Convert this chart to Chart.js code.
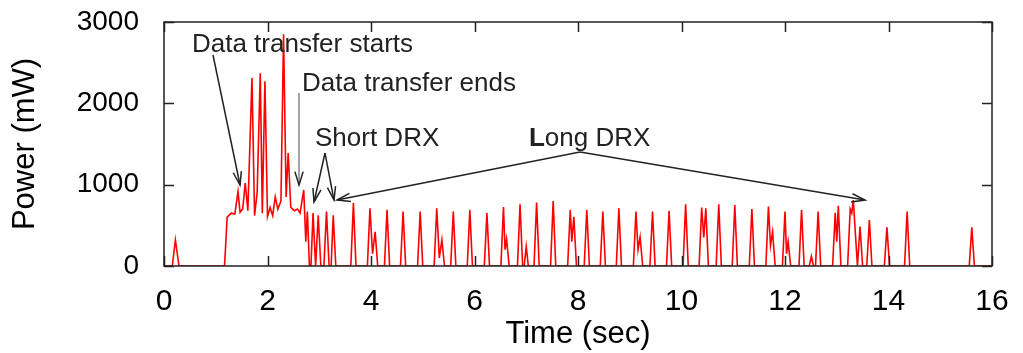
<!DOCTYPE html>
<html><head><meta charset="utf-8">
<script src="https://cdn.jsdelivr.net/npm/chart.js@4.4.1/dist/chart.umd.min.js"></script>
<style>html,body{margin:0;padding:0;background:#fff;} #c{display:block;}</style>
</head><body>
<canvas id="c" width="1023" height="353"></canvas>
<script>
// ---- data ----
const timeSec = [
  0, 0.16, 0.22, 0.29, 1.17, 1.22, 1.30, 1.37, 1.43, 1.47, 1.52, 1.57, 1.62, 1.70, 1.75, 1.80, 1.86, 1.90, 1.95, 2.00,
  2.05, 2.10, 2.15, 2.20, 2.26, 2.31, 2.36, 2.40, 2.45, 2.52, 2.58, 2.63, 2.70, 2.74, 2.77, 2.81, 2.84, 2.88, 2.93, 2.98,
  3.03, 3.09, 3.14, 3.19, 3.23, 3.27, 3.32, 3.61, 3.66, 3.71, 3.93, 3.98, 4.03, 4.08, 4.13, 4.26, 4.31, 4.36, 4.57, 4.62,
  4.67, 4.90, 4.95, 5.00, 5.22, 5.27, 5.32, 5.37, 5.42, 5.54, 5.59, 5.64, 5.86, 5.91, 5.96, 6.19, 6.24, 6.29, 6.51, 6.56,
  6.59, 6.62, 6.67, 6.83, 6.88, 6.93, 6.96, 7.00, 7.04, 7.15, 7.20, 7.25, 7.47, 7.52, 7.57, 7.80, 7.85, 7.88, 7.92, 7.97,
  8.12, 8.17, 8.22, 8.43, 8.48, 8.53, 8.74, 8.79, 8.84, 9.07, 9.12, 9.16, 9.20, 9.25, 9.39, 9.44, 9.49, 9.71, 9.76, 9.81,
  10.03, 10.08, 10.13, 10.34, 10.39, 10.43, 10.47, 10.52, 10.67, 10.72, 10.77, 10.98, 11.03, 11.08, 11.31, 11.36, 11.41, 11.63, 11.68, 11.72,
  11.76, 11.81, 11.95, 12.00, 12.03, 12.06, 12.11, 12.27, 12.32, 12.37, 12.47, 12.51, 12.55, 12.59, 12.64, 12.69, 12.92, 12.97, 13.00, 13.03,
  13.08, 13.21, 13.26, 13.29, 13.32, 13.37, 13.40, 13.45, 13.50, 13.58, 13.63, 13.68, 13.92, 13.97, 14.02, 14.31, 14.36, 14.41, 15.56, 15.61,
  15.66, 16.00
];
const powerMw = [
  0, 0, 320, 0, 0, 600, 650, 640, 915, 660, 700, 1020, 680, 2310, 620, 900, 2370, 650, 2270, 610,
  720, 620, 850, 700, 800, 2850, 850, 1390, 720, 680, 700, 650, 935, 300, 670, 0, 0, 650, 0, 625,
  0, 0, 670, 0, 0, 625, 0, 0, 775, 0, 0, 710, 150, 420, 0, 0, 690, 0, 0, 670,
  0, 0, 670, 0, 0, 710, 100, 320, 0, 0, 670, 0, 0, 690, 0, 0, 650, 0, 0, 725,
  200, 330, 0, 0, 760, 0, 0, 240, 0, 0, 780, 0, 0, 800, 0, 0, 690, 300, 605, 0,
  0, 690, 0, 0, 670, 0, 0, 710, 0, 0, 670, 200, 355, 0, 0, 670, 0, 0, 680, 0,
  0, 760, 0, 0, 720, 350, 710, 0, 0, 760, 0, 0, 750, 0, 0, 700, 0, 0, 730, 250,
  420, 0, 0, 670, 150, 300, 0, 0, 690, 0, 0, 120, 0, 0, 670, 0, 0, 655, 300, 740,
  0, 0, 700, 650, 810, 300, 0, 485, 0, 0, 565, 0, 0, 475, 0, 0, 670, 0, 0, 475,
  0, 0
];
const xTicks = [0, 2, 4, 6, 8, 10, 12, 14, 16];
const yTicks = [0, 1000, 2000, 3000];
const xTitle = 'Time (sec)';
const yTitle = 'Power (mW)';

// annotation texts and arrows, in data coordinates
const labels = [
  { text: 'Data transfer starts', t: 0.54, v: 2631 },
  { text: 'Data transfer ends', t: 2.667, v: 2152 },
  { text: 'Short DRX', t: 2.918, v: 1475 },
  { text: 'Long DRX', t: 7.053, v: 1475, boldFirst: true }
];
const arrows = [
  { from: [0.947, 2594], to: [1.469, 996], color: '#222' },
  { from: [2.609, 2127], to: [2.609, 996], color: '#888' },
  { from: [3.111, 1389], to: [2.899, 787], color: '#222' },
  { from: [3.111, 1389], to: [3.285, 811], color: '#222' },
  { from: [8.039, 1402], to: [3.343, 811], color: '#222' },
  { from: [8.039, 1402], to: [13.546, 811], color: '#222' }
];

const points = timeSec.map((t, i) => ({ x: t, y: powerMw[i] }));

const framePlugin = {
  id: 'frame',
  afterDatasetsDraw(chart) {
    const { ctx, chartArea: a, scales: { x, y } } = chart;
    ctx.save();
    ctx.strokeStyle = '#222';
    ctx.lineWidth = 1.5;
    ctx.strokeRect(a.left, a.top, a.right - a.left, a.bottom - a.top);
    ctx.beginPath();
    xTicks.forEach(v => {
      const px = Math.round(x.getPixelForValue(v)) + 0.5;
      ctx.moveTo(px, a.bottom); ctx.lineTo(px, a.bottom - 10);
      ctx.moveTo(px, a.top); ctx.lineTo(px, a.top + 10);
    });
    yTicks.forEach(v => {
      const py = Math.round(y.getPixelForValue(v)) + 0.5;
      ctx.moveTo(a.left, py); ctx.lineTo(a.left + 10, py);
      ctx.moveTo(a.right, py); ctx.lineTo(a.right - 10, py);
    });
    ctx.stroke();

    // arrows
    arrows.forEach(ar => {
      const x1 = x.getPixelForValue(ar.from[0]), y1 = y.getPixelForValue(ar.from[1]);
      const x2 = x.getPixelForValue(ar.to[0]), y2 = y.getPixelForValue(ar.to[1]);
      ctx.strokeStyle = ar.color;
      ctx.lineWidth = 1.5;
      ctx.beginPath(); ctx.moveTo(x1, y1); ctx.lineTo(x2, y2); ctx.stroke();
      const ang = Math.atan2(y2 - y1, x2 - x1);
      const L = 14, w = 0.3;
      ctx.strokeStyle = '#222';
      ctx.beginPath();
      ctx.moveTo(x2 - L * Math.cos(ang - w), y2 - L * Math.sin(ang - w));
      ctx.lineTo(x2, y2);
      ctx.lineTo(x2 - L * Math.cos(ang + w), y2 - L * Math.sin(ang + w));
      ctx.stroke();
    });

    // labels
    ctx.fillStyle = '#222';
    ctx.textBaseline = 'alphabetic';
    ctx.textAlign = 'left';
    labels.forEach(lb => {
      const px = x.getPixelForValue(lb.t), py = y.getPixelForValue(lb.v);
      if (lb.boldFirst) {
        ctx.font = 'bold 26px "Liberation Sans", Arial, sans-serif';
        const first = lb.text.charAt(0);
        ctx.fillText(first, px, py);
        const w0 = ctx.measureText(first).width;
        ctx.font = '26px "Liberation Sans", Arial, sans-serif';
        ctx.fillText(lb.text.slice(1), px + w0, py);
      } else {
        ctx.font = '26px "Liberation Sans", Arial, sans-serif';
        ctx.fillText(lb.text, px, py);
      }
    });
    ctx.restore();
  }
};

new Chart(document.getElementById('c'), {
  type: 'line',
  data: {
    datasets: [{
      data: points,
      borderColor: '#ff0000',
      borderWidth: 1.6,
      pointRadius: 0,
      tension: 0,
      fill: false
    }]
  },
  options: {
    responsive: false,
    animation: false,
    devicePixelRatio: 1,
    parsing: false,
    layout: { padding: { left: 0, right: 31, top: 22, bottom: 0 } },
    plugins: { legend: { display: false }, tooltip: { enabled: false } },
    scales: {
      x: {
        type: 'linear', min: 0, max: 16,
        afterBuildTicks: s => { s.ticks = xTicks.map(v => ({ value: v })); },
        afterFit: s => { s.height = 87; },
        grid: { display: false, drawTicks: true, tickLength: 15 },
        border: { display: false },
        ticks: { color: '#000', padding: 3, maxRotation: 0, autoSkip: false,
                 callback: v => String(v),
                 font: { family: '"Liberation Sans", Arial, sans-serif', size: 30 } },
        title: { display: true, text: xTitle, color: '#000',
                 font: { family: '"Liberation Sans", Arial, sans-serif', size: 31, lineHeight: 1 },
                 padding: { top: 0, bottom: 3 } }
      },
      y: {
        type: 'linear', min: 0, max: 3000,
        afterBuildTicks: s => { s.ticks = yTicks.map(v => ({ value: v })); },
        afterFit: s => { s.width = 164; },
        grid: { display: false, drawTicks: true, tickLength: 20 },
        border: { display: false },
        ticks: { color: '#000', padding: 5, autoSkip: false,
                 callback: v => String(v),
                 font: { family: '"Liberation Sans", Arial, sans-serif', size: 28 } },
        title: { display: true, text: yTitle, color: '#000',
                 font: { family: '"Liberation Sans", Arial, sans-serif', size: 31, lineHeight: 1 },
                 padding: { top: 10, bottom: 0 } }
      }
    }
  },
  plugins: [framePlugin]
});
</script>
</body></html>
